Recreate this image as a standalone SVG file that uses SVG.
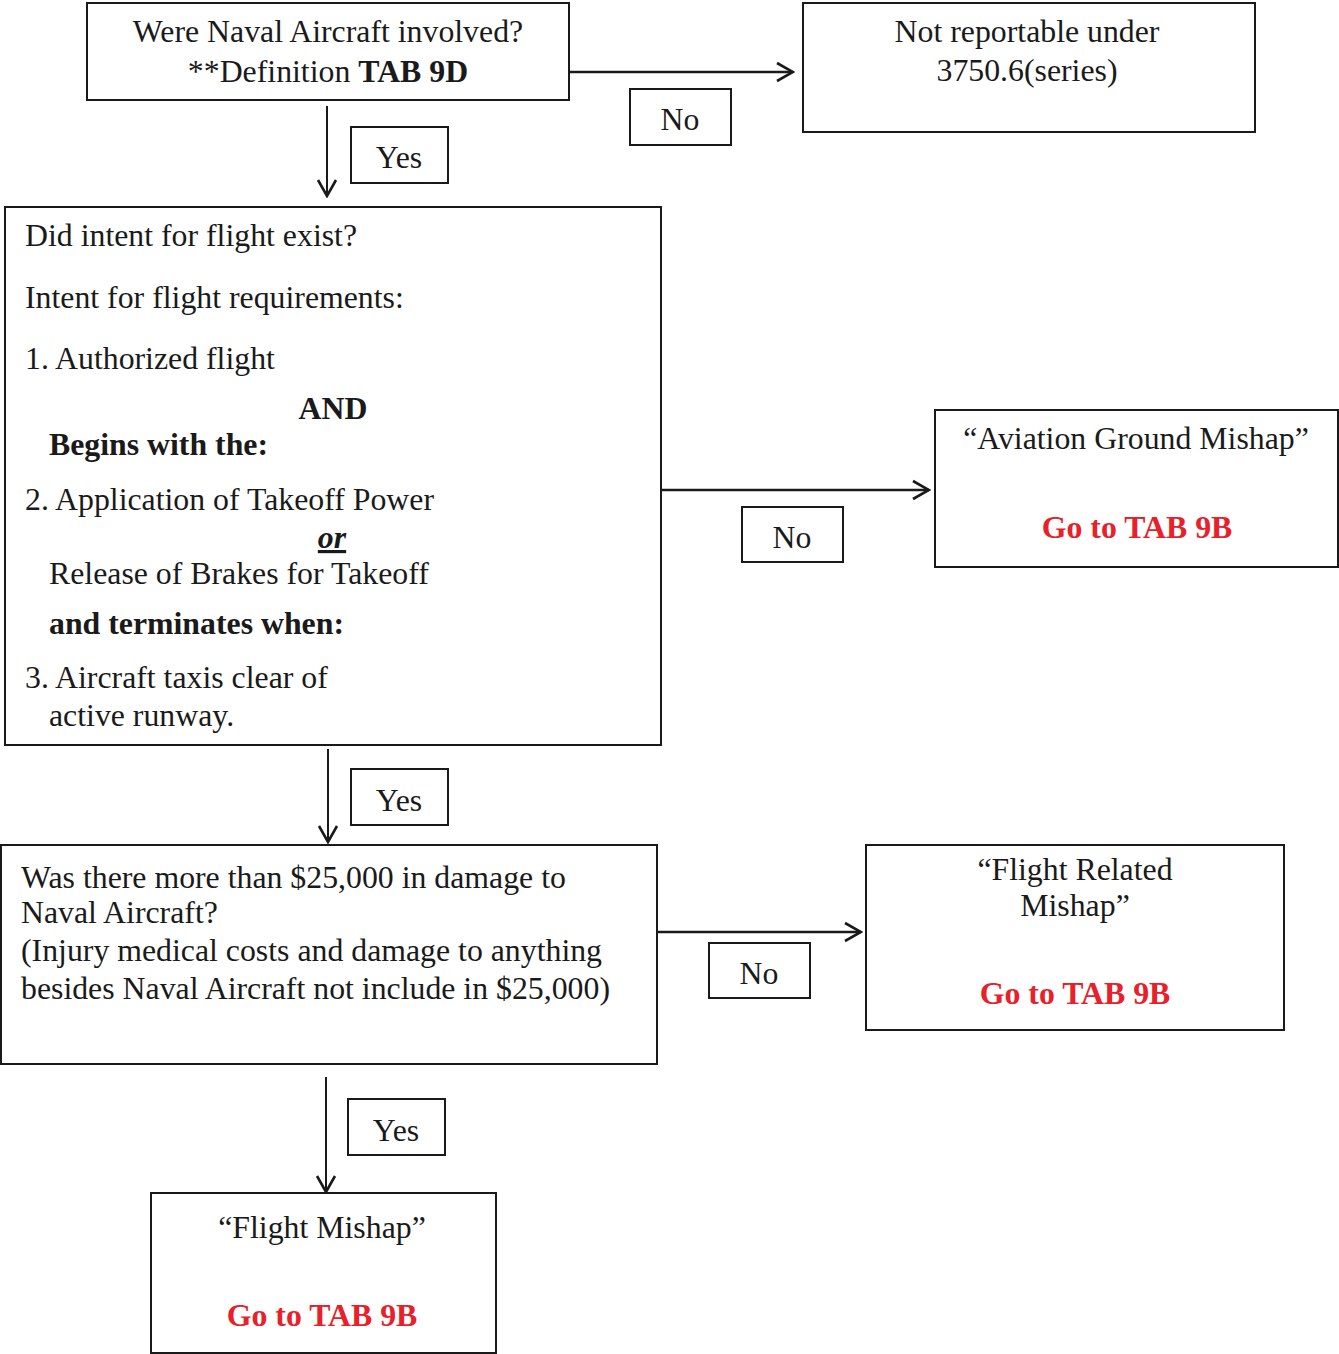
<svg xmlns="http://www.w3.org/2000/svg" width="1339" height="1354" viewBox="0 0 1339 1354">
<defs>
<style>
.box{fill:#fff;stroke:#1a1a1a;stroke-width:2}
.t{font-family:"Liberation Serif","Times New Roman",serif;font-size:31.8px;fill:#1a1a1a}
.c{text-anchor:middle}
.b{font-weight:bold}
.r{fill:#e8202a;font-weight:bold}
.ln{fill:none;stroke:#1a1a1a;stroke-width:2.5}
.lv{stroke-width:2}
</style>
<marker id="ah" viewBox="0 0 20 22" refX="18" refY="11" markerWidth="20" markerHeight="22" markerUnits="userSpaceOnUse" orient="auto">
<path d="M2,2 L18,11 L2,20" fill="none" stroke="#1a1a1a" stroke-width="2.6"/>
</marker>
</defs>
<rect width="1339" height="1354" fill="#fff"/>
<g id="connectors">
<line class="ln" x1="569" y1="72" x2="793" y2="72" marker-end="url(#ah)"/>
<line class="ln lv" x1="327" y1="106" x2="327" y2="196" marker-end="url(#ah)"/>
<line class="ln" x1="656" y1="490" x2="929" y2="490" marker-end="url(#ah)"/>
<line class="ln lv" x1="328" y1="749" x2="328" y2="842" marker-end="url(#ah)"/>
<line class="ln" x1="657" y1="932" x2="861" y2="932" marker-end="url(#ah)"/>
<line class="ln lv" x1="326" y1="1077" x2="326" y2="1192" marker-end="url(#ah)"/>
</g>
<g id="n-naval">
<rect class="box" x="87" y="3" width="482" height="97"/>
<text class="t c" x="328" y="42">Were Naval Aircraft involved?</text>
<text class="t c" x="328" y="82">**Definition <tspan class="b">TAB 9D</tspan></text>
</g>
<g id="n-notreportable">
<rect class="box" x="803" y="3" width="452" height="129"/>
<text class="t c" x="1027" y="42">Not reportable under</text>
<text class="t c" x="1027" y="81">3750.6(series)</text>
</g>
<g id="n-intent">
<rect class="box" x="5" y="207" width="656" height="538"/>
<text class="t" x="25" y="246">Did intent for flight exist?</text>
<text class="t" x="25" y="308">Intent for flight requirements:</text>
<text class="t" x="25" y="369">1. Authorized flight</text>
<text class="t b c" x="333" y="419">AND</text>
<text class="t b" x="49" y="455">Begins with the:</text>
<text class="t" x="25" y="510">2. Application of Takeoff Power</text>
<text class="t b c" x="332" y="548" style="font-style:italic;text-decoration:underline">or</text>
<text class="t" x="49" y="584">Release of Brakes for Takeoff</text>
<text class="t b" x="49" y="634">and terminates when:</text>
<text class="t" x="25" y="688">3. Aircraft taxis clear of</text>
<text class="t" x="49" y="726">active runway.</text>
</g>
<g id="n-ground">
<rect class="box" x="935" y="410" width="403" height="157"/>
<text class="t c" x="1136" y="449">“Aviation Ground Mishap”</text>
<text class="t c r" x="1137" y="538">Go to TAB 9B</text>
</g>
<g id="n-damage">
<rect class="box" x="1" y="845" width="656" height="219"/>
<text class="t" x="21" y="888">Was there more than $25,000 in damage to</text>
<text class="t" x="21" y="923">Naval Aircraft?</text>
<text class="t" x="21" y="961">(Injury medical costs and damage to anything</text>
<text class="t" x="21" y="999">besides Naval Aircraft not include in $25,000)</text>
</g>
<g id="n-flightrelated">
<rect class="box" x="866" y="845" width="418" height="185"/>
<text class="t c" x="1075" y="880">“Flight Related</text>
<text class="t c" x="1075" y="916">Mishap”</text>
<text class="t c r" x="1075" y="1004">Go to TAB 9B</text>
</g>
<g id="n-flightmishap">
<rect class="box" x="151" y="1193" width="345" height="160"/>
<text class="t c" x="322" y="1238">“Flight Mishap”</text>
<text class="t c r" x="322" y="1326">Go to TAB 9B</text>
</g>
<g id="labels">
<g id="l-yes1"><rect class="box" x="351" y="127" width="97" height="56"/><text class="t c" x="399" y="168">Yes</text></g>
<g id="l-no1"><rect class="box" x="630" y="89" width="101" height="56"/><text class="t c" x="680" y="130">No</text></g>
<g id="l-no2"><rect class="box" x="742" y="507" width="101" height="55"/><text class="t c" x="792" y="548">No</text></g>
<g id="l-yes2"><rect class="box" x="351" y="769" width="97" height="56"/><text class="t c" x="399" y="811">Yes</text></g>
<g id="l-no3"><rect class="box" x="709" y="943" width="101" height="55"/><text class="t c" x="759" y="984">No</text></g>
<g id="l-yes3"><rect class="box" x="348" y="1099" width="97" height="56"/><text class="t c" x="396" y="1141">Yes</text></g>
</g>
</svg>
